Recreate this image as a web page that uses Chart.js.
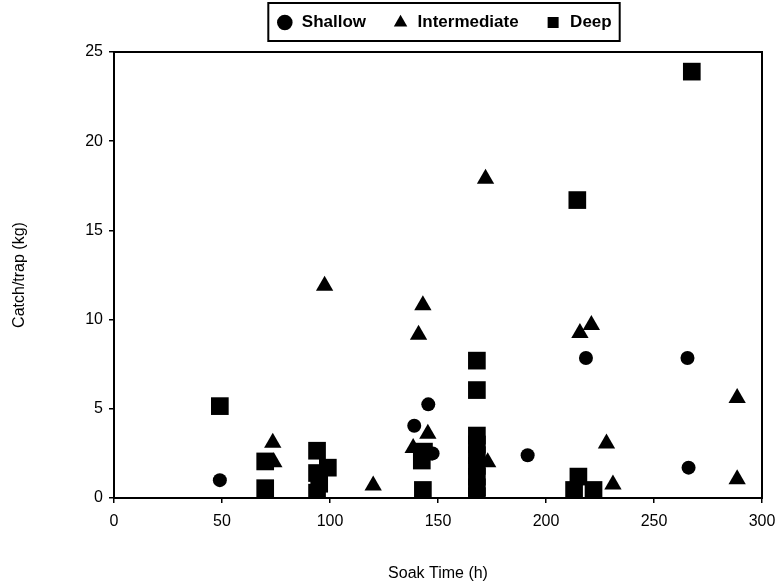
<!DOCTYPE html>
<html>
<head>
<meta charset="utf-8">
<script src="https://cdn.jsdelivr.net/npm/chart.js@4/dist/chart.umd.min.js"></script>
<style>
  html, body { margin: 0; padding: 0; background: #fff; }
</style>
</head>
<body>
<canvas id="myChart" width="781" height="583"></canvas>
<script>
// soak time (h) and catch per trap (kg)
var shallowSoak = [49, 139, 145.5, 147.5, 191.5, 218.5, 265.5, 266]
var shallowCatch = [1.0, 4.05, 5.25, 2.5, 2.4, 7.85, 7.85, 1.7]

var interSoak = [73.5, 74, 97.5, 120, 138.5, 141, 143, 145.3, 172, 173, 215.7, 221, 228, 231, 288.5, 288.5]
var interCatch = [3.1, 2.0, 11.9, 0.7, 2.8, 9.15, 10.8, 3.6, 17.9, 2.0, 9.25, 9.7, 3.05, 0.75, 5.6, 1.05]

var deepSoak = [49, 70, 70, 94, 94, 99, 94, 95, 142.5, 143.5, 143, 168, 168, 168, 168, 168, 168, 168, 168, 168, 214.5, 215, 213, 222, 267.5]
var deepCatch = [5.15, 2.05, 0.55, 2.65, 1.4, 1.7, 0.3, 0.8, 2.1, 2.6, 0.45, 7.7, 6.05, 3.5, 3.0, 2.4, 1.8, 1.2, 0.6, 0.1, 16.7, 1.2, 0.45, 0.45, 23.9]

var xTicks = [0, 50, 100, 150, 200, 250, 300]
var yTicks = [0, 5, 10, 15, 20, 25]

function pts(xs, ys) {
  return xs.map((v, i) => ({ x: v, y: ys[i] }))
}

var FONT = 'Liberation Sans, Arial, sans-serif'
var LEG_PAD = 26

// move the legend so it sits over the plot, then box it and the plot area
var boxPlugin = {
  id: 'boxes',
  afterLayout(chart) {
    const lg = chart.legend
    const shift = 444 - (lg.left + lg.right) / 2
    lg.left += shift
    lg.right += shift
    const dy = 14 - (lg.top + LEG_PAD)
    lg.top += dy
    lg.bottom += dy
  },
  afterDraw(chart) {
    const ctx = chart.ctx
    const a = chart.chartArea
    ctx.save()
    ctx.strokeStyle = '#000'
    ctx.lineWidth = 2
    ctx.strokeRect(a.left, a.top, a.right - a.left, a.bottom - a.top)
    const hb = chart.legend.legendHitBoxes
    if (hb && hb.length) {
      let l = Math.min(...hb.map(b => b.left))
      let r = Math.max(...hb.map(b => b.left + b.width))
      let t = Math.min(...hb.map(b => b.top))
      let bt = Math.max(...hb.map(b => b.top + b.height))
      ctx.strokeRect(l - 8, t - 11, r - l + 16, bt - t + 21)
    }
    ctx.restore()
  }
}

const ctx = document.getElementById('myChart')
new Chart(ctx, {
  type: 'scatter',
  data: {
    datasets: [{
      label: 'Shallow',
      data: pts(shallowSoak, shallowCatch),
      pointStyle: 'circle',
      pointRadius: 7,
      backgroundColor: '#000',
      borderColor: '#000',
      borderWidth: 0
    }, {
      label: 'Intermediate',
      data: pts(interSoak, interCatch),
      pointStyle: 'triangle',
      pointRadius: 10,
      backgroundColor: '#000',
      borderColor: '#000',
      borderWidth: 0
    }, {
      label: 'Deep',
      data: pts(deepSoak, deepCatch),
      pointStyle: 'rect',
      pointRadius: 12.5,
      backgroundColor: '#000',
      borderColor: '#000',
      borderWidth: 0
    }]
  },
  options: {
    responsive: false,
    animation: false,
    devicePixelRatio: 1,
    layout: { padding: { left: 0, right: 19, top: 2, bottom: 0 } },
    plugins: {
      legend: {
        display: true,
        position: 'top',
        maxHeight: 50,
        labels: {
          usePointStyle: true,
          boxHeight: 11,
          padding: LEG_PAD,
          color: '#000',
          font: { family: FONT, size: 17, weight: 'bold' }
        }
      },
      tooltip: { enabled: false }
    },
    scales: {
      x: {
        type: 'linear',
        min: 0,
        max: 300,
        afterBuildTicks: s => { s.ticks = xTicks.map(v => ({ value: v })) },
        afterFit: s => { s.height = 85; s.paddingLeft = 0; s.paddingRight = 0 },
        border: { display: true, color: '#000', width: 2 },
        grid: { display: true, drawOnChartArea: false, drawTicks: true, tickLength: 5, color: '#000', lineWidth: 1.5 },
        ticks: { color: '#000', padding: 9, maxRotation: 0, font: { family: FONT, size: 16 } },
        title: {
          display: true,
          text: 'Soak Time (h)',
          color: '#000',
          padding: { top: 0, bottom: 0 },
          font: { family: FONT, size: 16 }
        }
      },
      y: {
        type: 'linear',
        min: 0,
        max: 25,
        afterBuildTicks: s => { s.ticks = yTicks.map(v => ({ value: v })) },
        afterFit: s => { s.width = 114 },
        border: { display: true, color: '#000', width: 2 },
        grid: { display: true, drawOnChartArea: false, drawTicks: true, tickLength: 5, color: '#000', lineWidth: 1.5 },
        ticks: { color: '#000', padding: 6, font: { family: FONT, size: 16 } },
        title: {
          display: true,
          text: 'Catch/trap (kg)',
          color: '#000',
          padding: { top: 10, bottom: 10 },
          font: { family: FONT, size: 16 }
        }
      }
    }
  },
  plugins: [boxPlugin]
})
</script>
</body>
</html>
